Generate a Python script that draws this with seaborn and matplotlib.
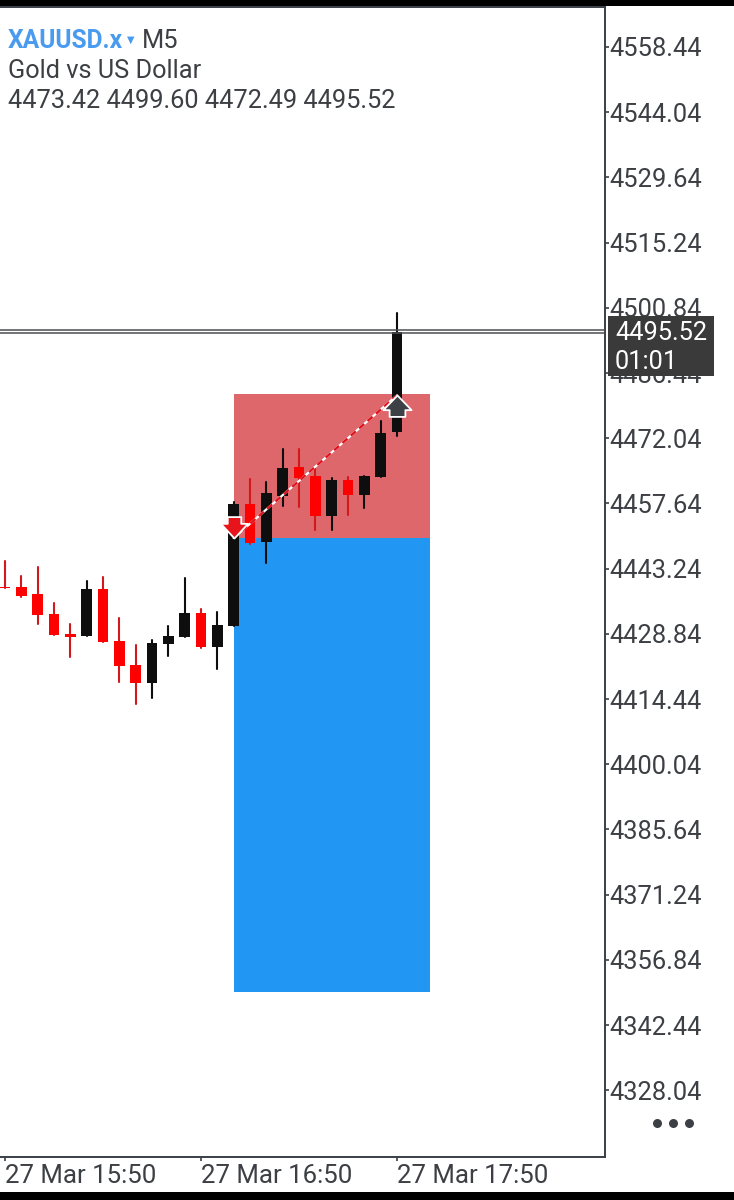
import numpy as np
import pandas as pd
import seaborn as sns
import matplotlib.pyplot as plt
from matplotlib.patches import Rectangle
from matplotlib.path import Path
from matplotlib.transforms import IdentityTransform

# candles, oldest first. black = up, red = down
opens = [4439.29, 4439.12, 4437.64, 4433.15, 4428.80, 4428.29, 4438.67, 4427.19, 4422.02, 4417.91, 4426.59, 4428.14, 4433.44,
         4425.87, 4430.64, 4457.51, 4449.05, 4459.35, 4465.75, 4463.76, 4454.86, 4462.81, 4459.50, 4463.54, 4473.42]
closes = [4438.85, 4437.26, 4432.93, 4428.58, 4428.21, 4438.67, 4426.97, 4421.80, 4417.91, 4426.88, 4428.36, 4433.44, 4425.87,
          4430.86, 4457.51, 4448.97, 4459.87, 4465.46, 4463.32, 4454.86, 4462.81, 4459.50, 4463.76, 4473.19, 4495.52]
highs = [4444.92, 4441.68, 4443.53, 4435.58, 4430.94, 4440.51, 4441.39, 4432.40, 4426.31, 4427.48, 4430.57, 4441.10, 4434.26,
         4433.59, 4458.02, 4463.03, 4462.44, 4469.66, 4469.59, 4465.40, 4463.25, 4463.54, 4463.76, 4475.91, 4499.60]
lows = [4438.85, 4436.97, 4430.94, 4428.58, 4423.66, 4428.29, 4426.97, 4418.20, 4413.41, 4414.60, 4423.94, 4428.14, 4425.64,
        4421.07, 4430.64, 4448.61, 4444.42, 4457.14, 4456.92, 4451.70, 4451.70, 4455.08, 4456.56, 4463.54, 4472.49]

price_ticks = [4328.04, 4342.44, 4356.84, 4371.24, 4385.64, 4400.04, 4414.44, 4428.84, 4443.24,
               4457.64, 4472.04, 4486.44, 4500.84, 4515.24, 4529.64, 4544.04, 4558.44]
time_ticks = [0, 12, 24]
time_labels = ["27 Mar 15:50", "27 Mar 16:50", "27 Mar 17:50"]

trade_bars = [14, 26]
entry_price = 4450.00
stop_price = 4481.81
target_price = 4349.74
exit_bar = 24
exit_price = 4481.50
price_lines = [4495.90, 4495.35]
last_price = 4495.52

RED = "#ff0000"
BLACK = "#0e0e0e"
FONT = "Roboto"

sns.set_theme(style="white")
plt.rcParams["font.family"] = [FONT, "DejaVu Sans"]

fig = plt.figure(figsize=(7.34, 12), dpi=100, facecolor="white")
ax = fig.add_axes([0, 43 / 1200, 605 / 734, 1150 / 1200])
ax.set_facecolor("white")

df = pd.DataFrame({"bar": range(len(opens)), "open": opens, "close": closes, "high": highs, "low": lows})
df["up"] = df["close"] >= df["open"]
df["top"] = df[["open", "close"]].max(axis=1)
df["bottom"] = df[["open", "close"]].min(axis=1)

# trade zones
ax.add_patch(Rectangle((trade_bars[0], entry_price), trade_bars[1] - trade_bars[0], stop_price - entry_price,
                       color="#de676c", lw=0, zorder=0.5))
ax.add_patch(Rectangle((trade_bars[0], target_price), trade_bars[1] - trade_bars[0], entry_price - target_price,
                       color="#2196f3", lw=0, zorder=0.5))

wicks = df.melt(id_vars=["bar", "up"], value_vars=["high", "low"], value_name="price")
sns.lineplot(data=wicks, x="bar", y="price", units="bar", estimator=None, hue="up",
             palette={True: BLACK, False: "#d2191c"}, lw=1.5, legend=False, zorder=1.5, ax=ax)

for is_up, color in [(True, BLACK), (False, RED)]:
    part = df[df["up"] == is_up]
    sns.barplot(x=part["bar"].to_numpy(), y=(part["top"] - part["bottom"]).to_numpy(), bottom=part["bottom"].to_numpy(),
                native_scale=True, color=color, saturation=1, width=0.66, errorbar=None, linewidth=0, zorder=2, ax=ax)

# current price line
for level in price_lines:
    ax.axhline(level, color="#4c4f53", lw=1.1, zorder=3)

# entry to exit line
trade_x = [trade_bars[0], exit_bar]
trade_y = [entry_price, exit_price]
sns.lineplot(x=trade_x, y=trade_y, color="white", lw=1.6, zorder=4, ax=ax)
sns.lineplot(x=trade_x, y=trade_y, color="#e0101a", lw=1.6, linestyle=(0, (3, 2)), zorder=4.1, ax=ax)

# deal arrows, tip sits on the price
down_arrow = Path([(0, 0), (-12, 13), (-6, 13), (-6, 19), (6, 19), (6, 13), (12, 13), (0, 0)], closed=True)
up_arrow = Path([(0, 0), (-12.5, -13), (-7, -13), (-7, -19), (7, -19), (7, -13), (12.5, -13), (0, 0)], closed=True)
sns.scatterplot(x=[trade_bars[0]], y=[entry_price], marker=down_arrow, s=950, color="#e8141c", edgecolor="white",
                linewidth=1.3, zorder=5, ax=ax)
sns.scatterplot(x=[exit_bar], y=[exit_price], marker=up_arrow, s=950, color="#3d4045", edgecolor="white",
                linewidth=1.3, zorder=5, ax=ax)

ax.set_xlim(-0.306, 36.74)
ax.set_ylim(4313.3, 4567.27)
ax.set_xlabel("")
ax.set_ylabel("")
ax.yaxis.tick_right()
ax.set_yticks(price_ticks)
ax.set_yticklabels([f"{p:.2f}" for p in price_ticks])
ax.set_xticks(time_ticks)
ax.set_xticklabels(time_labels, ha="left")
ax.tick_params(axis="y", length=3, width=1.2, color="#3a3f45", pad=0.5, labelsize=18.4, labelcolor="#3c3f43")
ax.tick_params(axis="x", length=3, width=1.2, color="#3a3f45", pad=2, labelsize=18.6, labelcolor="#3c3f43")
ax.tick_params(bottom=True, right=True, left=False, top=False)
ax.spines["left"].set_visible(False)
for side in ["top", "right", "bottom"]:
    ax.spines[side].set_color("#3a3f45")
    ax.spines[side].set_linewidth(1.4)

# header text
fig.text(8 / 734, 1 - 40.5 / 1200, "XAUUSD.x", color="#4a9bf0", fontsize=17.7, fontweight="bold", va="center")
fig.text(127 / 734, 1 - 40 / 1200, "▼", color="#4a9bf0", fontsize=7, va="center", family=["DejaVu Sans"])
fig.text(142 / 734, 1 - 40.5 / 1200, "M5", color="#3c3f43", fontsize=18.3, va="center")
fig.text(8 / 734, 1 - 70.5 / 1200, "Gold vs US Dollar", color="#3c3f43", fontsize=18.3, va="center")
fig.text(8 / 734, 1 - 101.5 / 1200, "4473.42 4499.60 4472.49 4495.52", color="#3c3f43", fontsize=18.3, va="center")

# price tag on the scale
ax.add_patch(Rectangle((608, 1200 - 376), 106, 60, transform=IdentityTransform(), color="#3a3a3a", lw=0,
                       clip_on=False, zorder=10))
fig.text(615 / 734, 1 - 333 / 1200, f"{last_price:.2f}", color="white", fontsize=18.3, va="center", zorder=11)
fig.text(615 / 734, 1 - 362 / 1200, "01:01", color="white", fontsize=18.3, va="center", zorder=11)

# menu dots
ax.scatter([657, 673, 689], [1200 - 1123] * 3, transform=IdentityTransform(), s=42, color="#3c3f43", lw=0, clip_on=False)

# phone status bars
fig.add_artist(Rectangle((0, 1 - 6 / 1200), 1, 6 / 1200, transform=fig.transFigure, color="black", lw=0))
fig.add_artist(Rectangle((0, 0), 1, 8 / 1200, transform=fig.transFigure, color="black", lw=0))

fig.savefig("out.png", dpi=100)
